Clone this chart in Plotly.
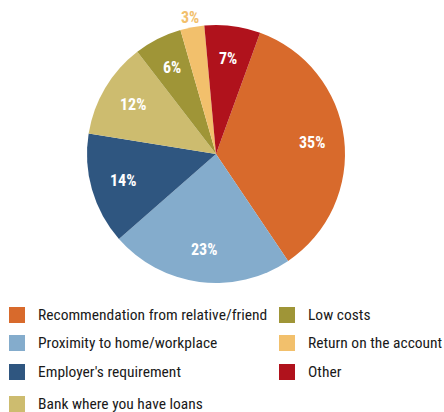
import math
import plotly.graph_objects as go

# Reasons for choosing a bank (share of respondents, %)
categories = [
    "Recommendation from relative/friend",
    "Proximity to home/workplace",
    "Employer's requirement",
    "Bank where you have loans",
    "Low costs",
    "Return on the account",
    "Other",
]
shares = [35, 23, 14, 12, 6, 3, 7]
colors = ["#D86A2C", "#84ACCC", "#2F5680", "#CDBC6F", "#9F9537", "#F2C06C", "#B0121C"]

FONT = "Roboto Condensed, Liberation Sans, Arial, sans-serif"

W, H = 444, 412
# pie geometry in pixels (from the top-left corner)
CX, CY, R = 216, 154, 129
START = 20  # degrees clockwise from 12 o'clock where the first slice begins

fig = go.Figure()
fig.add_trace(go.Pie(
    labels=categories,
    values=shares,
    sort=False,
    direction="clockwise",
    rotation=START,
    marker=dict(colors=colors, line=dict(width=0)),
    textinfo="none",
    showlegend=False,
    hoverinfo="label+percent",
    domain=dict(x=[(CX - R) / W, (CX + R) / W], y=[1 - (CY + R) / H, 1 - (CY - R) / H]),
))

annotations, shapes = [], []

# percentage labels at each slice's mid-angle; the thin slice gets its label outside
total = sum(shares)
acc = 0.0
for name, v, col in zip(categories, shares, colors):
    mid = START + (acc + v / 2) / total * 360
    acc += v
    outside = v < 5
    f = 1.08 if outside else 0.75
    px = CX + R * f * math.sin(math.radians(mid))
    py = CY - R * f * math.cos(math.radians(mid))
    annotations.append(dict(
        xref="paper", yref="paper", x=px / W, y=1 - py / H,
        xanchor="center", yanchor="middle", showarrow=False,
        text=f"<b>{v}%</b>",
        font=dict(family=FONT, size=16, color=col if outside else "white"),
    ))

# Two-column legend: first four categories on the left, the rest on the right
col_x = [9, 279]
row_y = [315, 343, 372, 404]
for i, (name, col) in enumerate(zip(categories, colors)):
    c, r = (0, i) if i < 4 else (1, i - 4)
    x0, yc = col_x[c], row_y[r]
    shapes.append(dict(
        type="rect", xref="paper", yref="paper",
        x0=x0 / W, x1=(x0 + 16) / W,
        y0=1 - (yc + 8) / H, y1=1 - (yc - 8) / H,
        fillcolor=col, line=dict(width=0),
    ))
    annotations.append(dict(
        xref="paper", yref="paper", x=(x0 + 27) / W, y=1 - yc / H,
        xanchor="left", yanchor="middle", showarrow=False,
        text=name, font=dict(family=FONT, size=15.5, color="#1a1a1a"),
    ))

fig.update_layout(
    width=W, height=H,
    margin=dict(l=0, r=0, t=0, b=0),
    paper_bgcolor="white", plot_bgcolor="white",
    shapes=shapes, annotations=annotations,
)
fig.write_html("out.html")
